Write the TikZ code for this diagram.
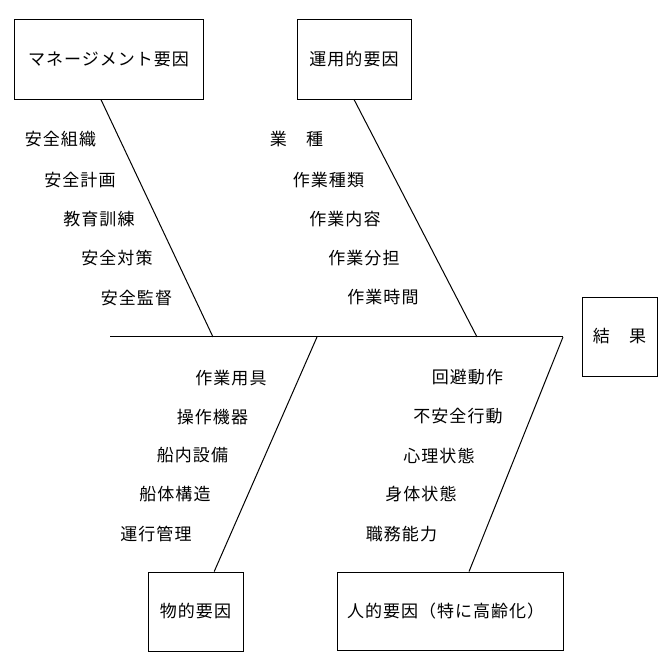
\documentclass[tikz,border=0pt]{standalone}
\usepackage{fontspec}
\newfontfamily\jp{Noto Sans CJK JP}[LetterSpace=6]
\usetikzlibrary{calc}
\begin{document}
\begin{tikzpicture}[x=1pt,y=-1pt,
  every node/.style={font=\jp\fontsize{17}{20}\selectfont, inner sep=0pt},
  catbox/.style={draw, line width=0.9pt, minimum width=#1},
  lbl/.style={anchor=center},
  bone/.style={line width=1pt}]
\useasboundingbox (0,0) rectangle (670,660);
% category boxes
\node[catbox=189pt, minimum height=80pt] (m1) at (108.5,59) {マネージメント要因};
\node[catbox=114pt, minimum height=80pt] (m2) at (354,59) {運用的要因};
\node[catbox=75pt, minimum height=79pt] (res) at (619.5,336.5) {結　果};
\node[catbox=95pt, minimum height=79pt] (m3) at (195.5,611.5) {物的要因};
\node[draw, line width=0.9pt, minimum height=78pt, text width=206pt, inner xsep=10pt, align=left] (m4) at (450,611) {人的要因（特に高齢化）};
% spine
\coordinate (sl) at (110,337);
\coordinate (s1) at (213,337);
\coordinate (s2) at (477,337);
\coordinate (s3) at (317,337);
\coordinate (s4) at (563,337);
\draw[bone] (sl) -- (s4);
% bones
\draw[bone] ($(m1.south west)!0.46!(m1.south east)$) -- (s1);
\draw[bone] (m2.south) -- (s2);
\draw[bone] ($(m3.north west)!0.695!(m3.north east)$) -- (s3);
\draw[bone] ($(m4.north west)!0.584!(m4.north east)$) -- (s4);
% labels: management
\node[lbl] (a1) at (60.5,139) {安全組織};
\node[lbl] (a2) at (80,180) {安全計画};
\node[lbl] (a3) at (99,219) {教育訓練};
\node[lbl] (a4) at (117,258) {安全対策};
\node[lbl] (a5) at (136.5,298) {安全監督};
% labels: operation
\node[lbl] (b1) at (296.5,139) {業　種};
\node[lbl] (b2) at (328.5,180) {作業種類};
\node[lbl] (b3) at (345,219) {作業内容};
\node[lbl] (b4) at (364,258) {作業分担};
\node[lbl] (b5) at (383,297) {作業時間};
% labels: physical
\node[lbl] (c1) at (231,378) {作業用具};
\node[lbl] (c2) at (212.5,417) {操作機器};
\node[lbl] (c3) at (192.5,455) {船内設備};
\node[lbl] (c4) at (175,494) {船体構造};
\node[lbl] (c5) at (156,534) {運行管理};
% labels: human
\node[lbl] (d1) at (467.5,377) {回避動作};
\node[lbl] (d2) at (458,416) {不安全行動};
\node[lbl] (d3) at (439,456) {心理状態};
\node[lbl] (d4) at (421,494) {身体状態};
\node[lbl] (d5) at (401.5,534) {職務能力};
\end{tikzpicture}
\end{document}
